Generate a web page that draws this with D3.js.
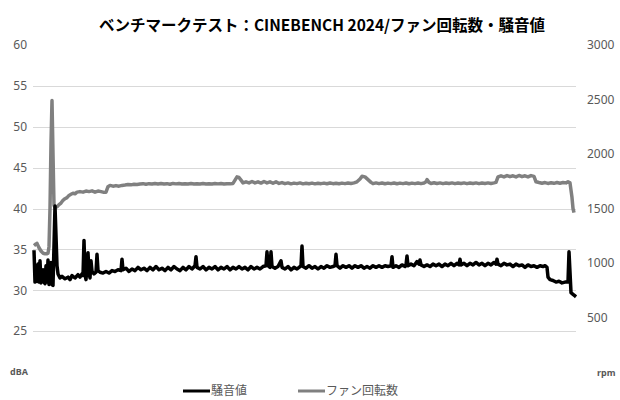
<!DOCTYPE html>
<html>
<head>
<meta charset="utf-8">
<script src="https://cdn.jsdelivr.net/npm/d3@7"></script>
<style>
   body { margin: 0; background: #fff; }
   svg { display: block; font-family: 'Noto Sans CJK JP', 'Noto Sans', sans-serif; }
</style>
</head>
<body>
<div id="chart"></div>
<script>
const title = 'ベンチマークテスト：CINEBENCH 2024/ファン回転数・騒音値';
const dbTicks = [25, 30, 35, 40, 45, 50, 55, 60];
const rpmTicks = [500, 1000, 1500, 2000, 2500, 3000];
const seriesNames = ['騒音値', 'ファン回転数'];

// time position of each sample (0 .. 542), noise in dBA
const noiseT = [0, 1, 2, 3, 4, 5, 6, 7, 8, 9, 10, 11, 12, 13, 14, 15, 16, 17, 18, 19, 21, 23, 24, 26, 28, 31, 34, 36, 38, 41, 44, 46, 48, 49, 50, 51, 52, 54, 55, 56, 57, 58, 60, 62, 63, 64, 66, 69, 72, 75, 78, 81, 84, 87, 88, 89, 92, 95, 98, 101, 104, 107, 110, 113, 116, 119, 122, 125, 128, 131, 134, 137, 140, 143, 146, 149, 152, 155, 158, 161, 162, 163, 166, 169, 172, 175, 178, 181, 184, 187, 190, 193, 196, 199, 202, 205, 208, 211, 214, 217, 220, 223, 226, 229, 232, 233, 234, 236, 237, 238, 241, 244, 247, 248, 251, 254, 257, 260, 263, 266, 267, 268, 269, 272, 275, 278, 281, 284, 287, 290, 293, 296, 299, 301, 302, 303, 306, 309, 312, 315, 318, 321, 324, 327, 330, 333, 336, 339, 342, 345, 348, 351, 354, 357, 358, 359, 362, 365, 368, 371, 372, 373, 374, 377, 380, 383, 385, 386, 387, 390, 393, 396, 399, 402, 405, 408, 411, 414, 417, 420, 423, 425, 426, 427, 430, 433, 436, 439, 442, 445, 448, 451, 454, 457, 460, 462, 463, 464, 467, 470, 473, 476, 479, 482, 485, 488, 491, 494, 497, 500, 503, 506, 509, 511, 513, 514, 516, 519, 522, 525, 528, 531, 534, 535, 537, 539, 541, 542];
const noiseDb = [34.9, 31.0, 33.0, 31.1, 33.2, 31.0, 33.6, 30.9, 31.2, 32.5, 31.0, 30.8, 33.0, 31.0, 33.7, 30.7, 31.0, 33.4, 30.7, 30.6, 40.3, 33.0, 32.0, 31.5, 31.7, 31.4, 31.6, 31.3, 31.8, 31.5, 31.9, 31.6, 32.0, 31.8, 36.1, 32.0, 31.3, 34.6, 32.1, 31.5, 33.6, 32.3, 32.0, 32.2, 34.4, 32.4, 32.2, 32.1, 32.3, 32.1, 32.4, 32.3, 32.5, 32.4, 33.8, 32.5, 32.7, 32.3, 32.6, 32.4, 32.8, 32.5, 32.7, 32.4, 32.8, 32.5, 32.9, 32.5, 32.7, 32.4, 32.8, 32.5, 32.9, 32.6, 32.4, 32.8, 32.5, 32.9, 32.6, 33.0, 34.1, 32.8, 32.6, 32.9, 32.5, 32.8, 32.6, 32.9, 32.5, 32.8, 32.6, 32.9, 32.5, 32.8, 32.6, 32.9, 32.6, 32.8, 32.5, 32.9, 32.6, 32.8, 32.6, 32.9, 33.0, 34.7, 33.0, 32.8, 34.7, 32.9, 32.7, 32.9, 33.6, 32.8, 32.6, 32.9, 32.5, 32.8, 32.6, 32.9, 33.0, 35.4, 32.9, 32.7, 33.0, 32.7, 32.9, 32.6, 32.9, 32.7, 33.0, 32.8, 32.9, 33.0, 34.4, 33.0, 32.7, 33.0, 32.8, 33.0, 32.7, 33.0, 32.8, 33.0, 32.7, 32.9, 32.7, 33.0, 32.8, 33.0, 32.8, 33.0, 32.9, 33.0, 34.1, 32.8, 33.0, 32.8, 33.1, 32.9, 33.1, 34.2, 33.0, 33.2, 33.0, 33.5, 33.2, 33.7, 33.1, 32.9, 33.1, 32.9, 33.2, 33.0, 33.2, 32.9, 33.2, 33.0, 33.3, 33.0, 33.3, 33.1, 33.8, 33.1, 33.3, 33.0, 33.3, 33.1, 33.4, 33.1, 33.3, 33.0, 33.3, 33.1, 33.4, 33.2, 33.8, 33.2, 33.0, 33.3, 33.1, 33.2, 32.9, 33.2, 33.0, 33.1, 32.8, 33.1, 32.9, 33.0, 32.8, 33.0, 32.9, 33.0, 32.8, 31.6, 31.3, 31.2, 31.0, 31.1, 30.9, 31.0, 31.0, 34.7, 29.7, 29.5, 29.3, 29.2];

// fan speed in rpm
const fanT = [0, 2, 3, 5, 7, 9, 11, 13, 14, 15, 16, 17, 18, 19, 20, 21, 23, 25, 27, 29, 31, 33, 35, 37, 39, 41, 43, 46, 49, 52, 55, 58, 61, 64, 67, 70, 72, 74, 76, 79, 82, 85, 88, 91, 94, 97, 100, 103, 106, 109, 112, 115, 118, 121, 124, 127, 130, 133, 136, 139, 142, 145, 148, 151, 154, 157, 160, 163, 166, 169, 172, 175, 178, 181, 184, 187, 190, 193, 196, 199, 201, 203, 205, 207, 209, 212, 215, 218, 221, 224, 227, 230, 233, 236, 239, 242, 245, 248, 251, 254, 257, 260, 263, 266, 269, 272, 275, 278, 281, 284, 287, 290, 293, 296, 299, 302, 305, 308, 311, 314, 317, 320, 323, 326, 328, 331, 334, 337, 339, 342, 345, 348, 351, 354, 357, 360, 363, 366, 369, 372, 375, 378, 381, 384, 387, 390, 392, 393, 395, 397, 400, 403, 406, 409, 412, 415, 418, 421, 424, 427, 430, 433, 436, 439, 442, 445, 448, 451, 454, 457, 460, 462, 464, 467, 470, 473, 476, 479, 482, 485, 488, 491, 494, 497, 500, 502, 505, 508, 511, 514, 517, 520, 523, 526, 529, 532, 534, 536, 538, 539, 540];
const fanRpm = [1160, 1175, 1180, 1140, 1110, 1090, 1085, 1085, 1090, 1150, 1500, 2100, 2490, 2000, 1530, 1510, 1515, 1535, 1550, 1575, 1590, 1600, 1620, 1630, 1640, 1635, 1650, 1655, 1650, 1660, 1655, 1662, 1650, 1660, 1655, 1648, 1650, 1700, 1712, 1705, 1710, 1705, 1712, 1715, 1720, 1717, 1722, 1720, 1725, 1728, 1722, 1728, 1724, 1730, 1725, 1730, 1724, 1728, 1722, 1730, 1726, 1730, 1724, 1728, 1725, 1730, 1724, 1728, 1725, 1730, 1724, 1728, 1725, 1730, 1726, 1730, 1724, 1728, 1726, 1730, 1760, 1790, 1785, 1760, 1735, 1745, 1735, 1748, 1735, 1745, 1733, 1748, 1735, 1745, 1732, 1745, 1730, 1738, 1728, 1735, 1726, 1733, 1728, 1735, 1726, 1732, 1727, 1733, 1726, 1732, 1728, 1733, 1727, 1734, 1728, 1732, 1727, 1733, 1728, 1734, 1729, 1735, 1745, 1770, 1795, 1790, 1765, 1740, 1728, 1735, 1728, 1734, 1727, 1733, 1728, 1734, 1727, 1733, 1728, 1734, 1727, 1733, 1728, 1734, 1728, 1734, 1745, 1765, 1740, 1730, 1736, 1729, 1735, 1728, 1734, 1729, 1735, 1728, 1734, 1729, 1735, 1728, 1734, 1729, 1735, 1728, 1734, 1730, 1735, 1729, 1735, 1740, 1790, 1800, 1790, 1802, 1792, 1800, 1790, 1803, 1792, 1800, 1790, 1802, 1795, 1745, 1738, 1732, 1738, 1730, 1737, 1731, 1738, 1732, 1738, 1735, 1745, 1735, 1600, 1500, 1462];

const width = 620, height = 400;
const plot = { left: 34, right: 576, top: 45, bottom: 372 };
const axisColor = '#595959';
const gridColor = '#d9d9d9';

const svg = d3.select('#chart').append('svg')
   .attr('width', width)
   .attr('height', height);

const x = d3.scaleLinear().domain([0, 542]).range([plot.left, plot.right]);
const yDb = d3.scaleLinear().domain([20, 60]).range([plot.bottom, plot.top]);
const yRpm = d3.scaleLinear().domain([0, 3000]).range([plot.bottom, plot.top]);

// gridlines follow the left axis
svg.append('g')
   .selectAll('line')
   .data(dbTicks.filter(d => d < 60))
   .join('line')
   .attr('x1', plot.left - 1)
   .attr('x2', plot.right)
   .attr('y1', d => Math.round(yDb(d)) + 0.5)
   .attr('y2', d => Math.round(yDb(d)) + 0.5)
   .attr('stroke', gridColor)
   .attr('stroke-width', 1);

// left axis (dBA)
const leftAxis = svg.append('g')
   .attr('transform', `translate(${plot.left - 7},0)`)
   .call(d3.axisLeft(yDb).tickValues(dbTicks).tickSize(0).tickPadding(0));
leftAxis.select('.domain').remove();
leftAxis.selectAll('text')
   .attr('fill', axisColor)
   .attr('font-size', '12px')
   .attr('font-family', "'Noto Sans', sans-serif");

// right axis (rpm)
const rightAxis = svg.append('g')
   .attr('transform', `translate(${plot.right + 11},0)`)
   .call(d3.axisRight(yRpm).tickValues(rpmTicks).tickFormat(d3.format('d')).tickSize(0).tickPadding(0));
rightAxis.select('.domain').remove();
rightAxis.selectAll('text')
   .attr('fill', axisColor)
   .attr('font-size', '12px')
   .attr('font-family', "'Noto Sans', sans-serif");

// unit labels sit where the bottom tick labels would be
svg.append('text')
   .attr('x', 28).attr('y', yDb(20) + 3)
   .attr('text-anchor', 'end')
   .attr('fill', axisColor)
   .attr('font-size', '9px')
   .attr('font-weight', 'bold')
   .attr('font-family', "'Noto Sans', sans-serif")
   .text('dBA');
svg.append('text')
   .attr('x', 597).attr('y', yRpm(0) + 4)
   .attr('fill', axisColor)
   .attr('font-size', '9px')
   .attr('font-weight', 'bold')
   .attr('font-family', "'Noto Sans', sans-serif")
   .text('rpm');

const fanLine = d3.line()
   .x((d, i) => x(fanT[i]))
   .y(d => yRpm(d));
svg.append('path')
   .datum(fanRpm)
   .attr('d', fanLine)
   .attr('fill', 'none')
   .attr('stroke', '#808080')
   .attr('stroke-width', 3.5)
   .attr('stroke-linejoin', 'round');

const noiseLine = d3.line()
   .x((d, i) => x(noiseT[i]))
   .y(d => yDb(d));
svg.append('path')
   .datum(noiseDb)
   .attr('d', noiseLine)
   .attr('fill', 'none')
   .attr('stroke', '#000')
   .attr('stroke-width', 3.5)
   .attr('stroke-linejoin', 'round');

// title
svg.append('text')
   .attr('x', 322).attr('y', 31)
   .attr('text-anchor', 'middle')
   .attr('font-size', '15.5px')
   .attr('font-weight', 'bold')
   .attr('fill', '#000')
   .text(title);

// legend
const legend = svg.append('g');
const legendX = [183, 298];
const legendColors = ['#000', '#808080'];
legend.selectAll('line')
   .data(seriesNames)
   .join('line')
   .attr('x1', (d, i) => legendX[i])
   .attr('x2', (d, i) => legendX[i] + 27)
   .attr('y1', 391).attr('y2', 391)
   .attr('stroke', (d, i) => legendColors[i])
   .attr('stroke-width', 3);
legend.selectAll('text')
   .data(seriesNames)
   .join('text')
   .attr('x', (d, i) => legendX[i] + 28)
   .attr('y', 395)
   .attr('fill', axisColor)
   .attr('font-size', '12px')
   .text(d => d);
</script>
</body>
</html>
